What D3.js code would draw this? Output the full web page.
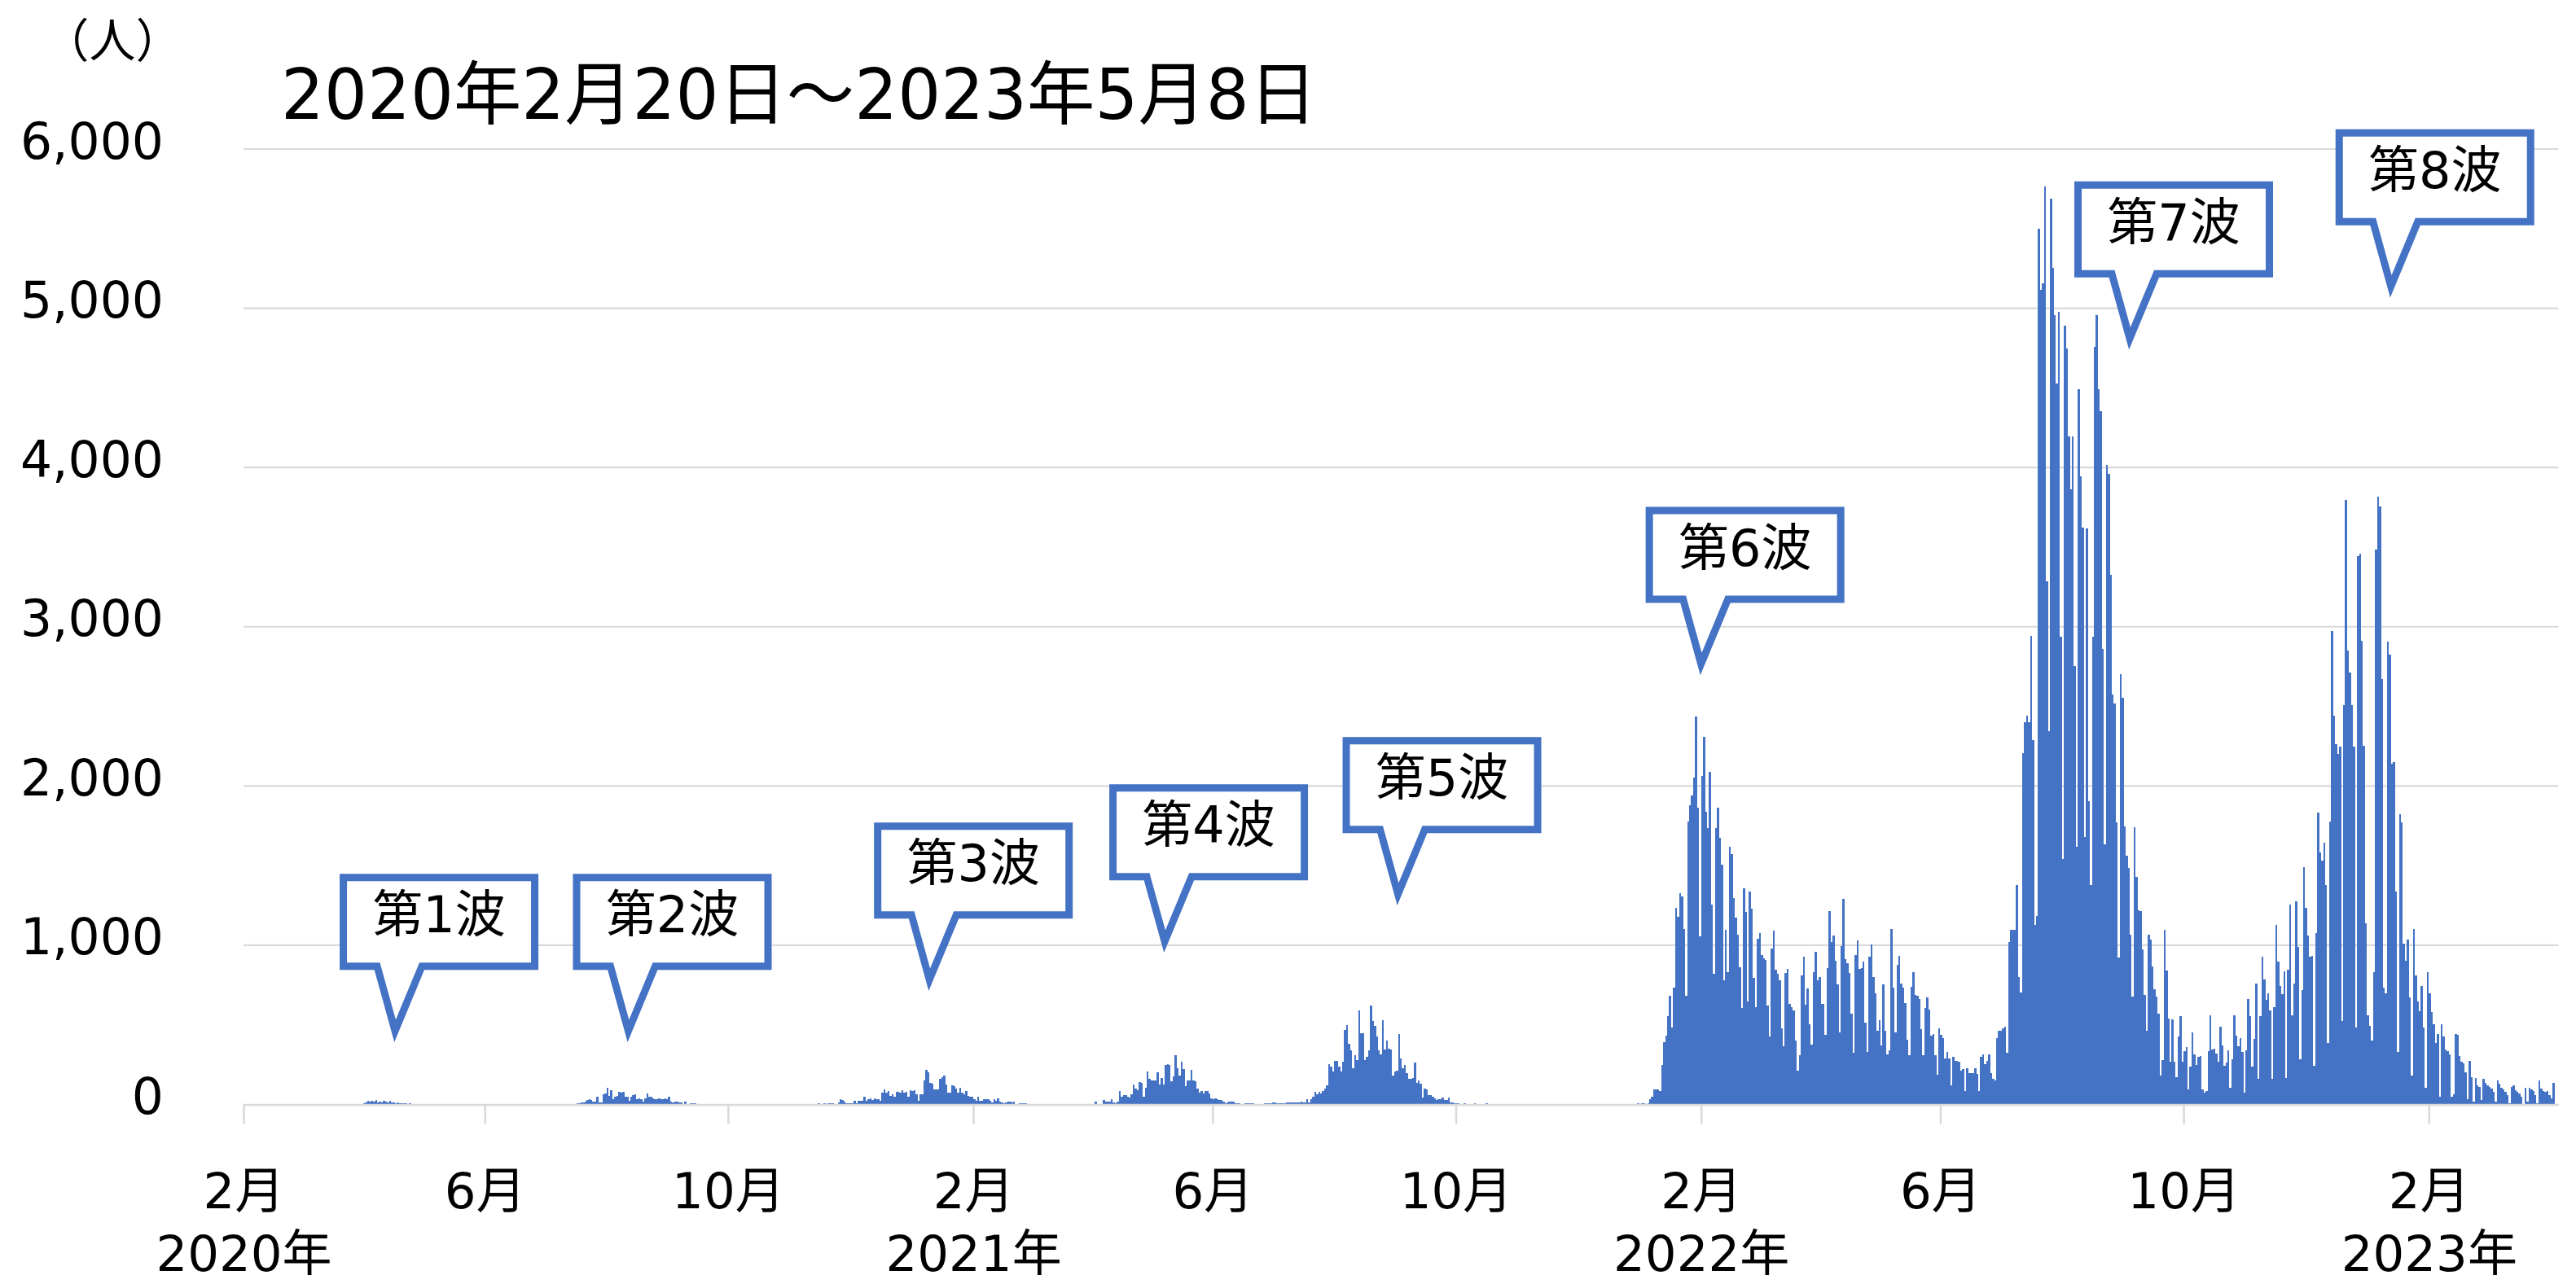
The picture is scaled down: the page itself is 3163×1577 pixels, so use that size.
<!DOCTYPE html>
<html lang="ja">
<head>
<meta charset="utf-8">
<script src="https://cdn.jsdelivr.net/npm/d3@7"></script>
<style>
  html, body { margin: 0; padding: 0; background: #fff; }
  svg { display: block; }
</style>
</head>
<body>
<div id="plot"></div>
<script>
// Daily counts. Each array runs day by day from its start date.
const cases2020 = [
  0,0,0,0,0,0,0,0,0,0,
  0,0,0,0,0,0,1,0,0,0, 0,0,0,0,0,0,0,0,0,0, 0,0,0,1,0,0,1,3,2,5,4,
  8,15,25,18,22,20,28,15,20,12, 25,18,15,22,12,15,10,12,8,10, 6,8,5,6,4,3,3,2,1,1,
  1,1,0,1,0,0,0,1,0,0, 0,0,0,0,0,0,0,0,0,0, 0,0,0,0,0,0,0,0,0,0,0,
  0,0,0,0,0,0,0,0,0,0, 0,0,0,0,0,0,0,0,0,0, 0,0,1,0,0,0,1,0,0,1,
  0,0,1,0,0,1,0,2,1,1, 2,2,3,2,3,5,7,10,14,14, 20,30,34,26,17,17,51,14,14,65,68,
  107,56,90,31,51,56,78,73,78,48, 48,22,48,60,65,34,39,34,17,39, 70,48,51,39,34,31,36,34,31,36,31,
  51,17,14,20,19,14,14,5,17,3, 3,10,10,8,5,3,3,3,2,2, 2,2,2,2,1,1,1,0,1,1,
  0,1,0,1,0,0,1,0,2,1, 0,0,1,0,1,2,1,0,1,0, 1,2,1,0,1,1,2,1,0,1,1,
  1,2,1,2,3,1,2,3,2,4, 3,5,5,4,6,5,3,6,5,10, 9,10,5,4,14,31,28,17,10,9,
  10,10,22,9,22,22,22,51,22,34, 39,27,39,31,31,22,73,95,73,82, 56,65,48,78,78,73,90,73,78,51,90
];
const cases2021 = [
  85,90,65,22,65,65,153,218,200,133, 129,95,95,95,163,170,180,124,73,73, 119,116,102,73,107,73,65,85,56,51,48,
  34,22,51,22,22,31,34,31,22,14, 34,22,39,17,14,10,14,17,17,14, 17,5,3,7,7,7,7,3,
  5,3,3,2,3,2,3,2,2,3, 2,2,3,4,2,3,2,2,3,2, 3,4,2,3,2,3,2,3,3,3,3,
  3,3,17,5,3,3,26,17,17,20, 31,14,9,20,82,48,60,60,51,43, 65,123,99,89,140,136,51,106,208,162,
  150,150,150,201,123,167,123,247,252,247, 145,174,307,230,184,269,221,116,150,150, 218,153,145,100,72,85,70,85,82,68,37,
  31,37,34,26,26,20,9,14,20,17, 17,9,9,9,3,3,9,9,7,9, 9,3,2,2,2,2,9,9,9,9,
  14,14,7,7,7,7,7,12,12,12, 12,14,14,14,20,14,14,31,14,31, 51,77,65,77,68,85,99,119,252,238,208,
  276,276,238,208,269,468,497,383,341,230, 307,281,588,446,446,281,298,341,622,525, 494,426,341,315,528,344,400,349,344,184,208,
  213,443,290,230,247,196,162,162,167,264, 136,150,128,43,99,94,60,60,51,37, 26,34,31,43,29,26,43,14,12,9,
  9,7,5,5,7,3,5,5,3,7, 3,5,3,3,5,7,3,3,2,3, 2,3,2,2,3,2,2,1,2,2,2,
  1,1,0,1,2,0,1,1,0,1, 1,0,1,0,1,2,0,1,0,1, 1,0,1,0,1,1,0,1,0,1,
  1,0,1,0,0,1,0,1,0,0, 1,0,0,1,0,0,1,0,1,0, 1,1,0,2,3,2,1,3,5,4,6
];
const cases2022 = [
  5,8,6,4,8,34,51,94,94,94, 82,247,390,434,553,681,485,732,1235,1178, 1325,1308,1102,685,1775,1877,1941,2052,2435,1865,1056,
  2061,2308,1836,1737,2091,1255,823,1737,1865,1672, 1507,780,1098,829,1616,1573,1298,1175,1068,863, 605,1359,1209,647,1337,1231,797,613,
  1039,1076,940,916,906,622,429,980,1090,848, 821,780,477,366,826,852,630,610,593,400, 213,307,809,928,627,729,502,378,829,957,780,
  800,634,630,439,857,1213,1022,1061,903,753, 455,996,1289,911,886,826,571,324,937,1030, 852,855,899,516,332,928,1005,800,698,463,
  528,371,753,463,312,341,1104,736,455,877, 933,758,732,639,409,310,741,831,690,681, 664,472,307,605,673,596,434,443,307,187,477,
  438,417,290,330,290,120,300,275,275,267, 210,221,84,229,198,198,198,229,191,84, 297,313,255,275,316,198,160,153,419,465,
  465,480,490,324,1022,1098,1098,1098,1380,801, 705,2204,2402,2440,2402,2944,2288,1125,1182,5498, 5117,5155,5765,3287,2345,5689,5254,4957,4530,4976,2936,
  1544,4888,4747,4194,3863,4194,2753,1620,4490,3946, 3622,1678,3615,1906,1380,2936,4759,4957,4492,4354, 2860,1632,4015,3958,3325,2574,2517,1773,923,2700,2555,
  1746,1563,1487,1068,679,1743,1430,1220,1213,972, 686,465,1068,1037,869,724,679,572,183,280, 1098,839,541,267,534,267,172,427,553,267,
  336,362,95,236,450,313,248,297,305,95, 76,84,336,560,343,351,322,270,489,373, 245,263,340,103,283,561,432,366,417,330,72,
  340,662,553,237,412,757,160,553,927,785, 656,700,592,160,613,1127,896,746,695,837, 167,844,1256,561,759,1274,991,283,716,1488,
  1236,1060,927,932,245,1076,1833,1583,1532,1642, 1377,386,1776,2973,2440,2265,2201,2245,523,2510, 3797,2852,2710,2510,2245,481,3444,3457,2914,2252,1140
];
const cases2023 = [
  561,494,399,829,3483,3817,3753,2672,734,700, 2909,2826,2142,2149,1338,329,1822,1771,1009,901, 1035,674,180,1102,811,649,587,746,484,103,829,
  700,579,502,386,443,51,502,425,347,335, 314,51,64,443,438,304,270,257,201,34, 272,170,17,167,119,110,26,162,
  136,119,111,99,77,17,150,128,106,94, 77,60,9,111,119,89,77,68,51,3, 106,17,106,94,82,60,9,150,99,82,77,
  82,60,37,136
];
const seriesStarts = ["2020-02-20", "2021-01-01", "2022-01-01", "2023-01-01"];

const yTicks = [0, 1000, 2000, 3000, 4000, 5000, 6000];
const xTickDates = ["2020-02-01", "2020-06-01", "2020-10-01", "2021-02-01", "2021-06-01",
                    "2021-10-01", "2022-02-01", "2022-06-01", "2022-10-01", "2023-02-01"];
const xTickMonths = ["2月", "6月", "10月", "2月", "6月", "10月", "2月", "6月", "10月", "2月"];
const xTickYears = ["2020年", "", "", "2021年", "", "", "2022年", "", "", "2023年"];

const waveLabels = ["第1波", "第2波", "第3波", "第4波", "第5波", "第6波", "第7波", "第8波"];
const waveDates = ["2020-04-17", "2020-08-12", "2021-01-10", "2021-05-08",
                   "2021-09-02", "2022-02-01", "2022-09-04", "2023-01-13"];
const waveValues = [462, 462, 784, 1024, 1321, 2766, 4810, 5137];

const titleText = "2020年2月20日～2023年5月8日";
const unitText = "（人）";

const parseDate = d3.timeParse("%Y-%m-%d");

// Flatten the yearly arrays into one daily series
const data = [];
[cases2020, cases2021, cases2022, cases2023].forEach((arr, i) => {
    const start = parseDate(seriesStarts[i]);
    arr.forEach((v, j) => data.push({ date: d3.timeDay.offset(start, j), value: v }));
});

const width = 3163;
const height = 1577;
const fontFamily = "'DejaVu Sans', 'Noto Sans CJK JP', sans-serif";
const blue = "#4472C4";
const gridColor = "#d9d9d9";

const x = d3.scaleTime()
    .domain([parseDate("2020-02-01"), parseDate("2023-04-07")])
    .range([299, 3141.4]);

const y = d3.scaleLinear()
    .domain([0, 6000])
    .range([1356.5, 183]);

const svg = d3.select("#plot")
    .append("svg")
    .attr("width", width)
    .attr("height", height)
    .attr("viewBox", [0, 0, width, height])
    .style("font-family", fontFamily);

svg.append("rect").attr("width", width).attr("height", height).attr("fill", "#fff");

// Horizontal grid lines
svg.append("g")
    .selectAll("line")
    .data(yTicks.filter(d => d > 0))
    .join("line")
    .attr("x1", x.range()[0])
    .attr("x2", x.range()[1])
    .attr("y1", d => y(d))
    .attr("y2", d => y(d))
    .attr("stroke", gridColor)
    .attr("stroke-width", 2.2);

// Daily bars, snapped to the pixel grid so neighbours meet without seams
const step = x(d3.timeDay.offset(x.domain()[0], 1)) - x(x.domain()[0]);
svg.append("g")
    .attr("fill", blue)
    .attr("shape-rendering", "crispEdges")
    .selectAll("rect")
    .data(data)
    .join("rect")
    .attr("x", d => x(d.date))
    .attr("width", step)
    .attr("y", d => y(d.value))
    .attr("height", d => y(0) - y(d.value));

// Bottom axis
const xAxis = svg.append("g")
    .attr("transform", `translate(0,${y(0)})`)
    .call(d3.axisBottom(x)
        .tickValues(xTickDates.map(parseDate))
        .tickFormat((d, i) => xTickMonths[i])
        .tickSize(24)
        .tickSizeOuter(0)
        .tickPadding(60))
    .attr("font-family", null)
    .attr("font-size", null);

xAxis.select(".domain").attr("stroke", gridColor).attr("stroke-width", 2.5);
xAxis.selectAll(".tick line").attr("stroke", gridColor).attr("stroke-width", 2.5);
xAxis.selectAll(".tick text")
    .attr("fill", "#000")
    .style("font-size", "61px");
xAxis.selectAll(".tick")
    .append("text")
    .attr("y", 204)
    .attr("fill", "#000")
    .attr("text-anchor", "middle")
    .style("font-size", "61px")
    .text((d, i) => xTickYears[i]);

// Left axis labels
const yAxis = svg.append("g")
    .attr("transform", `translate(${x.range()[0]},0)`)
    .call(d3.axisLeft(y)
        .tickValues(yTicks)
        .tickFormat(d3.format(","))
        .tickSize(0)
        .tickPadding(98))
    .attr("font-family", null)
    .attr("font-size", null)
    .call(g => g.select(".domain").remove());

yAxis.selectAll(".tick text")
    .attr("fill", "#000")
    .attr("dy", "0.18em")
    .style("font-size", "61.5px");

// Wave callouts
const callouts = svg.append("g")
    .selectAll("g")
    .data(waveLabels.map((label, i) => ({ label, date: parseDate(waveDates[i]), value: waveValues[i] })))
    .join("g")
    .attr("transform", d => `translate(${x(d.date)},${y(d.value)})`);

callouts.append("path")
    .attr("d", "M-63.5,-188.5H171.5V-79.5H33L0,0L-22,-79.5H-63.5Z")
    .attr("fill", "#fff")
    .attr("stroke", blue)
    .attr("stroke-width", 9)
    .attr("stroke-linejoin", "miter")
    .attr("stroke-miterlimit", 10);

callouts.append("text")
    .attr("x", 54)
    .attr("y", -121)
    .attr("text-anchor", "middle")
    .attr("fill", "#000")
    .style("font-size", "62px")
    .text(d => d.label);

// Title and unit
svg.append("text")
    .attr("x", 345)
    .attr("y", 146)
    .attr("fill", "#000")
    .style("font-size", "85px")
    .attr("textLength", 1272)
    .attr("lengthAdjust", "spacingAndGlyphs")
    .text(titleText);

svg.append("text")
    .attr("x", 138)
    .attr("y", 70)
    .attr("text-anchor", "middle")
    .attr("fill", "#000")
    .style("font-family", "'Noto Sans CJK JP', sans-serif")
    .style("font-size", "57px")
    .text(unitText);
</script>
</body>
</html>
